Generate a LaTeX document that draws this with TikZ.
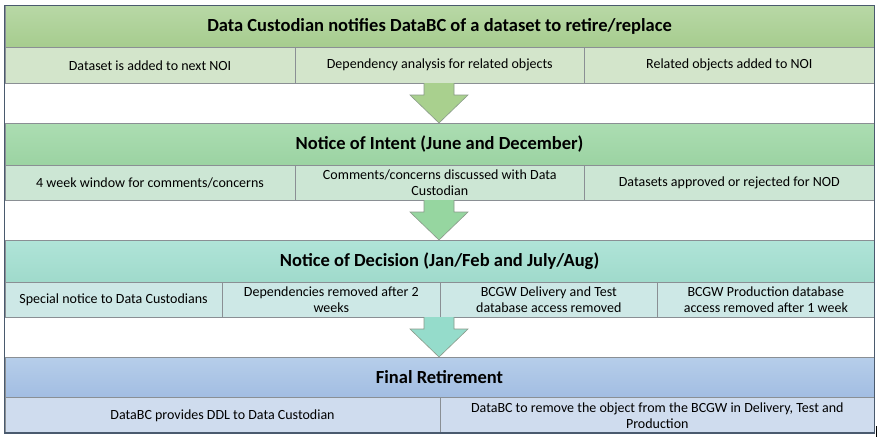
\documentclass[tikz,border=0pt]{standalone}
\usepackage{fontspec}
\setmainfont{Carlito}
\definecolor{framec}{HTML}{4A5A6E}
\definecolor{cellc}{HTML}{8A8F94}
\definecolor{hOneT}{HTML}{B8D8A6}
\definecolor{hOneB}{HTML}{A6CC8E}
\definecolor{sOne}{HTML}{D3E5CB}
\definecolor{hTwoT}{HTML}{ACDDB2}
\definecolor{hTwoB}{HTML}{9BD3A2}
\definecolor{sTwo}{HTML}{CCE6D4}
\definecolor{hThrT}{HTML}{B0E4D8}
\definecolor{hThrB}{HTML}{9FDACB}
\definecolor{sThr}{HTML}{CDE8E6}
\definecolor{hFouT}{HTML}{B6CEEA}
\definecolor{hFouB}{HTML}{A2BDE2}
\definecolor{sFou}{HTML}{CFDCEE}
\definecolor{aOne}{HTML}{A9D08E}
\definecolor{aTwo}{HTML}{96D6A0}
\definecolor{aThr}{HTML}{95DCCB}
\definecolor{aEdge}{HTML}{8A9A8A}
\begin{document}
\begin{tikzpicture}[x=1pt,y=-1pt,
  hdr/.style={draw=cellc, line width=0.6pt, anchor=north west, inner sep=0pt,
    minimum width=869.5pt, font=\fontsize{18.5}{22}\selectfont\bfseries},
  cell/.style={draw=cellc, line width=0.6pt, anchor=north west, inner sep=0pt,
    align=center, font=\fontsize{14}{16}\selectfont},
  blockarrow/.style={draw=aEdge, line width=0.6pt}
]
\useasboundingbox (0,0) rectangle (879,439);
\fill[white] (0,0) rectangle (879,439);

% Section 1
\node[hdr, minimum height=42pt, top color=hOneT, bottom color=hOneB] (h1) at (4.5,5)
  {Data Custodian notifies DataBC of a dataset to retire/replace};
\node[cell, fill=sOne, minimum width=290.5pt, minimum height=36pt] (c11) at (4.5,47) {Dataset is added to next NOI};
\node[cell, fill=sOne, minimum width=289pt, minimum height=36pt] (c12) at (295,47) {Dependency analysis for related objects};
\node[cell, fill=sOne, minimum width=290pt, minimum height=36pt] (c13) at (584,47) {Related objects added to NOI};

% Section 2
\node[hdr, minimum height=42pt, top color=hTwoT, bottom color=hTwoB] (h2) at (4.5,123)
  {Notice of Intent (June and December)};
\node[cell, fill=sTwo, minimum width=290.5pt, minimum height=35pt] (c21) at (4.5,165) {4 week window for comments/concerns};
\node[cell, fill=sTwo, minimum width=289pt, minimum height=35pt] (c22) at (295,165) {Comments/concerns discussed with Data\\Custodian};
\node[cell, fill=sTwo, minimum width=290pt, minimum height=35pt] (c23) at (584,165) {Datasets approved or rejected for NOD};

% Section 3
\node[hdr, minimum height=42pt, top color=hThrT, bottom color=hThrB] (h3) at (4.5,240)
  {Notice of Decision (Jan/Feb and July/Aug)};
\node[cell, fill=sThr, minimum width=217.5pt, minimum height=35pt] (c31) at (4.5,282) {Special notice to Data Custodians};
\node[cell, fill=sThr, minimum width=218pt, minimum height=35pt] (c32) at (222,282) {Dependencies removed after 2\\weeks};
\node[cell, fill=sThr, minimum width=217pt, minimum height=35pt] (c33) at (440,282) {BCGW Delivery and Test\\database access removed};
\node[cell, fill=sThr, minimum width=217pt, minimum height=35pt] (c34) at (657,282) {BCGW Production database\\access removed after 1 week};

% Section 4
\node[hdr, minimum height=40pt, top color=hFouT, bottom color=hFouB] (h4) at (4.5,357)
  {Final Retirement};
\node[cell, fill=sFou, minimum width=435.5pt, minimum height=36pt] (c41) at (4.5,397) {DataBC provides DDL to Data Custodian};
\node[cell, fill=sFou, minimum width=434pt, minimum height=36pt] (c42) at (440,397) {DataBC to remove the object from the BCGW in Delivery, Test and\\Production};

% Block arrows
\filldraw[blockarrow, fill=aOne] (424,83) -- (424,95) -- (410,95) -- (439,123) -- (468,95) -- (454,95) -- (454,83);
\filldraw[blockarrow, fill=aTwo] (424,200) -- (424,212) -- (410,212) -- (439,240) -- (468,212) -- (454,212) -- (454,200);
\filldraw[blockarrow, fill=aThr] (424,317) -- (424,329) -- (410,329) -- (439,357) -- (468,329) -- (454,329) -- (454,317);

% Outer frame
\draw[framec, line width=1pt] (4.5,5) rectangle (874,433);
\draw[framec, line width=1.2pt] (4.5,433) -- (874,433);
% cursor mark
\draw[black, line width=0.8pt] (876.5,426) -- (876.5,437);
\end{tikzpicture}
\end{document}
